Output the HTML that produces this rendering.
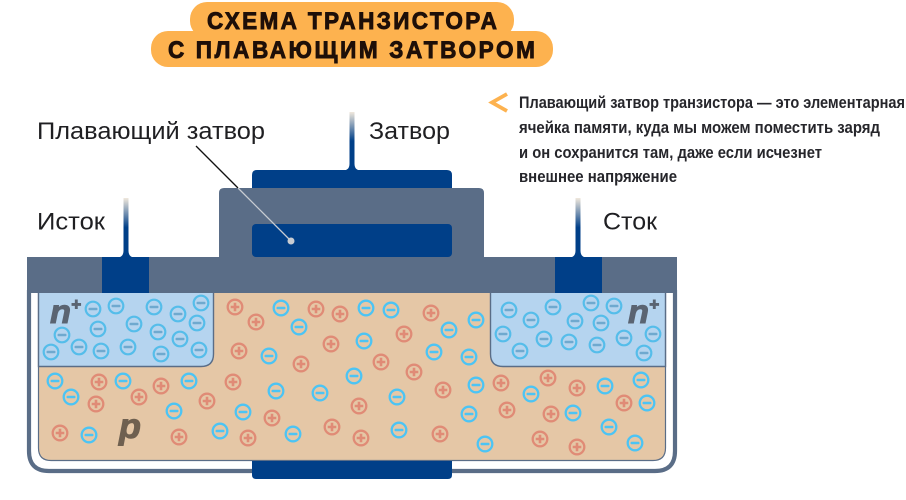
<!DOCTYPE html>
<html><head><meta charset="utf-8"><style>
html,body{margin:0;padding:0;background:#fff}
svg{display:block}
text{font-family:"Liberation Sans","DejaVu Sans",sans-serif}
</style></head><body>
<svg xmlns="http://www.w3.org/2000/svg" width="906" height="500" viewBox="0 0 906 500">
<defs>
<linearGradient id="pin" x1="0" y1="0" x2="0" y2="1"><stop offset="0" stop-color="#f0e8dc"/><stop offset="0.5" stop-color="#003f88"/><stop offset="1" stop-color="#003f88"/></linearGradient>
<g id="m"><circle r="7.300" fill="none" stroke="#4cc4f4" stroke-width="2.300"/><rect x="-4.500" y="-1.300" width="9" height="2.600" rx="1" fill="#4cc4f4"/></g>
<g id="b"><circle r="7.300" fill="none" stroke="#55bdea" stroke-width="2.200"/><rect x="-4.500" y="-1.300" width="9" height="2.600" rx="1" fill="#6fa9cf"/></g>
<g id="p"><circle r="7.300" fill="none" stroke="#e08b76" stroke-width="2.300"/><path d="M-4.300 0H4.300M0 -4.300V4.300" stroke="#e08b76" stroke-width="2.600"/></g>
</defs>
<!-- title -->
<rect x="190" y="2" width="324" height="36" rx="17" fill="#fdb24f"/>
<rect x="151" y="31" width="402" height="36" rx="17" fill="#fdb24f"/>
<g font-size="24" font-weight="bold" fill="#1e0f08" stroke="#1e0f08" stroke-width="0.900">
<text transform="scale(0.94,1)" x="220.200" y="29" textLength="308.500" lengthAdjust="spacing">СХЕМА ТРАНЗИСТОРА</text>
<text transform="scale(0.94,1)" x="178.700" y="58" textLength="390.400" lengthAdjust="spacing">С ПЛАВАЮЩИМ ЗАТВОРОМ</text>
</g>
<!-- note -->
<path d="M507 94L492 102.500L507 111" fill="none" stroke="#fdb24f" stroke-width="3.800"/>
<g font-size="16.500" font-weight="bold" fill="#26262b">
<text x="519" y="108" textLength="386" lengthAdjust="spacingAndGlyphs">Плавающий затвор транзистора — это элементарная</text>
<text x="519" y="133" textLength="361" lengthAdjust="spacingAndGlyphs">ячейка памяти, куда мы можем поместить заряд</text>
<text x="519" y="158" textLength="303" lengthAdjust="spacingAndGlyphs">и он сохранится там, даже если исчезнет</text>
<text x="519" y="182" textLength="158" lengthAdjust="spacingAndGlyphs">внешнее напряжение</text>
</g>
<!-- labels -->
<g font-size="24.500" fill="#1f1f22">
<text x="37" y="139" textLength="228" lengthAdjust="spacingAndGlyphs">Плавающий затвор</text>
<text x="369" y="139" textLength="81" lengthAdjust="spacingAndGlyphs">Затвор</text>
<text x="37" y="229.500" textLength="68" lengthAdjust="spacingAndGlyphs">Исток</text>
<text x="603" y="229.500" textLength="54" lengthAdjust="spacingAndGlyphs">Сток</text>
</g>
<!-- pins -->
<path d="M123.500 198H128.500V251Q128.500 255.500 132 257H120Q123.500 255.500 123.500 251Z" fill="url(#pin)"/>
<path d="M349.500 112H354.500V164Q354.500 168.500 358 170H346Q349.500 168.500 349.500 164Z" fill="url(#pin)"/>
<path d="M575.500 198H580.500V251Q580.500 255.500 584 257H572Q575.500 255.500 575.500 251Z" fill="url(#pin)"/>
<!-- outer U -->
<path d="M29 290V451Q29 471 49 471H655Q675 471 675 451V290" fill="none" stroke="#5a6d87" stroke-width="4.200"/>
<!-- substrate -->
<path d="M38.500 290V448Q38.500 460.500 51 460.500H653Q665.500 460.500 665.500 448V290Z" fill="#e5c7a6" stroke="#5a6d87" stroke-width="1.200"/>
<path d="M38.500 290V366.500H201Q213.500 366.500 213.500 354V290Z" fill="#b5d4ef" stroke="#5a6d87" stroke-width="1.400"/>
<path d="M665.500 290V366.500H503Q490.500 366.500 490.500 354V290Z" fill="#b5d4ef" stroke="#5a6d87" stroke-width="1.400"/>
<!-- gates and band -->
<path d="M252 188V175Q252 170 257 170H447Q452 170 452 175V188Z" fill="#003f88"/>
<path d="M27 293V257H219V193Q219 188 224 188H479Q484 188 484 193V257H677V293Z" fill="#5a6d87"/>
<rect x="252" y="224" width="200" height="33" rx="4" fill="#003f88"/>
<rect x="102" y="257" width="47" height="36" fill="#003f88"/>
<rect x="555" y="257" width="47" height="36" fill="#003f88"/>
<path d="M252 461H452V475Q452 479 448 479H256Q252 479 252 475Z" fill="#003f88"/>
<!-- leader -->
<line x1="196" y1="146" x2="238" y2="188" stroke="#111" stroke-width="1.300"/>
<line x1="238" y1="188" x2="291" y2="241" stroke="#c8ccd2" stroke-width="1.300"/>
<circle cx="291" cy="241" r="3.500" fill="#c8ccd2"/>
<!-- letters -->
<g font-weight="bold" font-style="italic" fill="#5a6472" stroke="#5a6472" stroke-width="1">
<text x="50" y="323" font-size="33" textLength="21" lengthAdjust="spacingAndGlyphs">n</text>
<text x="71" y="310" font-size="17">+</text>
<text x="628" y="323" font-size="33" textLength="21" lengthAdjust="spacingAndGlyphs">n</text>
<text x="649" y="310" font-size="17">+</text>
</g>
<text x="119" y="438" font-size="35" font-weight="bold" font-style="italic" fill="#6f6050" stroke="#6f6050" stroke-width="1" textLength="22" lengthAdjust="spacingAndGlyphs">p</text>
<!-- charges in left n -->
<use href="#b" x="93" y="309"/><use href="#b" x="116" y="306"/><use href="#b" x="154" y="307"/><use href="#b" x="178" y="314"/><use href="#b" x="201" y="303"/><use href="#b" x="197" y="323"/><use href="#b" x="134" y="324"/><use href="#b" x="98" y="329"/><use href="#b" x="62" y="335"/><use href="#b" x="158" y="332"/><use href="#b" x="180" y="339"/><use href="#b" x="79" y="347"/><use href="#b" x="51" y="352"/><use href="#b" x="101" y="351"/><use href="#b" x="128" y="347"/><use href="#b" x="161" y="354"/><use href="#b" x="199" y="350"/>
<!-- charges in right n -->
<use href="#b" x="509" y="310"/><use href="#b" x="531" y="320"/><use href="#b" x="553" y="307"/><use href="#b" x="591" y="303"/><use href="#b" x="614" y="306"/><use href="#b" x="575" y="321"/><use href="#b" x="601" y="323"/><use href="#b" x="503" y="334"/><use href="#b" x="544" y="339"/><use href="#b" x="569" y="342"/><use href="#b" x="597" y="345"/><use href="#b" x="624" y="338"/><use href="#b" x="653" y="334"/><use href="#b" x="644" y="353"/><use href="#b" x="520" y="351"/>
<!-- minus in substrate -->
<use href="#m" x="55" y="381"/><use href="#m" x="71" y="397"/><use href="#m" x="123" y="381"/><use href="#m" x="189" y="381"/><use href="#m" x="174" y="411"/><use href="#m" x="89" y="435"/><use href="#m" x="220" y="431"/>
<use href="#m" x="281" y="308"/><use href="#m" x="299" y="327"/><use href="#m" x="366" y="308"/><use href="#m" x="391" y="310"/><use href="#m" x="449" y="330"/><use href="#m" x="364" y="341"/><use href="#m" x="434" y="352"/><use href="#m" x="269" y="356"/><use href="#m" x="354" y="376"/><use href="#m" x="276" y="391"/><use href="#m" x="320" y="393"/><use href="#m" x="397" y="397"/><use href="#m" x="243" y="412"/><use href="#m" x="293" y="434"/><use href="#m" x="399" y="430"/>
<use href="#m" x="476" y="320"/><use href="#m" x="469" y="357"/><use href="#m" x="476" y="385"/><use href="#m" x="531" y="394"/><use href="#m" x="605" y="386"/><use href="#m" x="641" y="380"/><use href="#m" x="647" y="403"/><use href="#m" x="469" y="414"/><use href="#m" x="573" y="413"/><use href="#m" x="609" y="427"/><use href="#m" x="635" y="443"/><use href="#m" x="485" y="444"/>
<!-- plus in substrate -->
<use href="#p" x="99" y="382"/><use href="#p" x="161" y="386"/><use href="#p" x="139" y="397"/><use href="#p" x="96" y="404"/><use href="#p" x="207" y="401"/><use href="#p" x="233" y="382"/><use href="#p" x="60" y="433"/><use href="#p" x="179" y="437"/>
<use href="#p" x="235" y="307"/><use href="#p" x="256" y="322"/><use href="#p" x="316" y="309"/><use href="#p" x="340" y="314"/><use href="#p" x="431" y="313"/><use href="#p" x="404" y="334"/><use href="#p" x="331" y="344"/><use href="#p" x="239" y="351"/><use href="#p" x="301" y="364"/><use href="#p" x="381" y="362"/><use href="#p" x="414" y="372"/><use href="#p" x="443" y="390"/><use href="#p" x="359" y="406"/><use href="#p" x="272" y="418"/><use href="#p" x="332" y="427"/><use href="#p" x="248" y="438"/><use href="#p" x="361" y="438"/><use href="#p" x="440" y="434"/>
<use href="#p" x="501" y="383"/><use href="#p" x="548" y="378"/><use href="#p" x="577" y="388"/><use href="#p" x="624" y="403"/><use href="#p" x="507" y="410"/><use href="#p" x="551" y="414"/><use href="#p" x="540" y="439"/><use href="#p" x="577" y="447"/>
</svg>
</body></html>
